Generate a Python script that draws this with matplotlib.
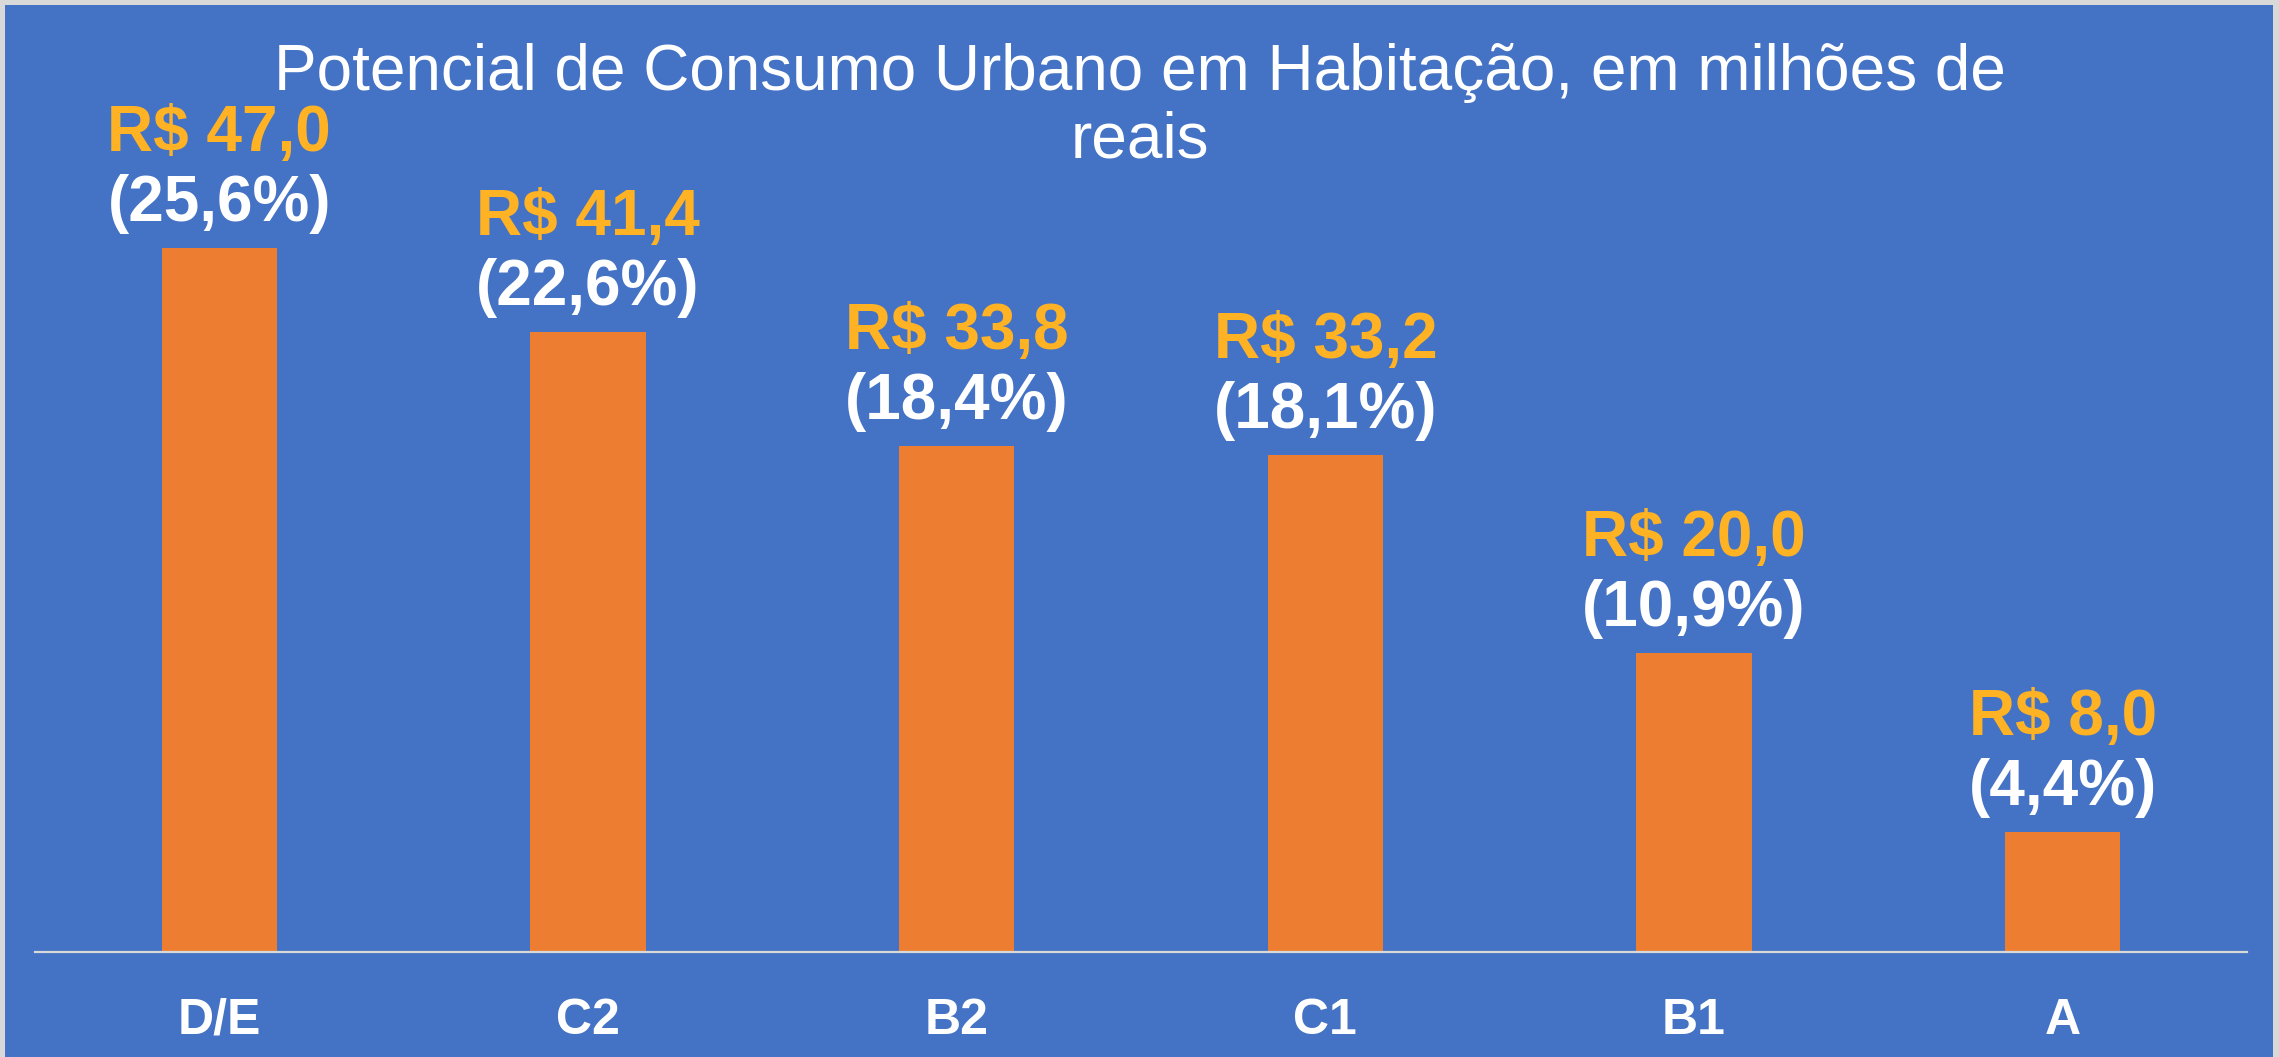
import matplotlib
matplotlib.use("Agg")
import matplotlib.pyplot as plt
from matplotlib.patches import Rectangle

plt.rcParams['font.family'] = ['Liberation Sans', 'DejaVu Sans']

# data
categorias = ['D/E', 'C2', 'B2', 'C1', 'B1', 'A']
valores = [47.0, 41.4, 33.8, 33.2, 20.0, 8.0]
percentuais = [25.6, 22.6, 18.4, 18.1, 10.9, 4.4]
titulo = 'Potencial de Consumo Urbano em Habitação, em milhões de\nreais'

azul = '#4472C4'
laranja = '#ED7D31'
dourado = '#FFB224'

W, H = 2279, 1057
fig = plt.figure(figsize=(W / 100, H / 100), dpi=100)
fig.patch.set_facecolor('#D9D9D9')
# blue slide background inside thin grey frame
fig.patches.append(Rectangle((5 / W, 0), (2273 - 5) / W, (H - 5) / H,
                             transform=fig.transFigure, facecolor=azul,
                             edgecolor='none', zorder=-5))

ax_bottom = (H - 952) / H
ax_top = (H - 40) / H
ax = fig.add_axes([35 / W, ax_bottom, (2247 - 35) / W, ax_top - ax_bottom])
ax.set_facecolor('none')

x = range(len(categorias))
bars = ax.bar(x, valores, width=0.312, color=laranja, zorder=2)

ax.set_xlim(-0.5, len(categorias) - 0.5)
ax.set_ylim(0, (952 - 40) / 14.97)

for i, (v, p) in enumerate(zip(valores, percentuais)):
    ax.annotate(f"R$ {v:.1f}".replace('.', ','), xy=(i, v), xytext=(0, 97),
                textcoords='offset pixels', ha='center', va='baseline',
                fontsize=46, fontweight='bold', color=dourado)
    ax.annotate(f"({p:.1f}%)".replace('.', ','), xy=(i, v), xytext=(0, 27),
                textcoords='offset pixels', ha='center', va='baseline',
                fontsize=46, fontweight='bold', color='white')

for s in ['top', 'right', 'left']:
    ax.spines[s].set_visible(False)
ax.spines['bottom'].set_color('#D9D9D9')
ax.spines['bottom'].set_linewidth(1.6)
ax.set_yticks([])
ax.set_xticks(list(x))
ax.set_xticklabels(categorias, fontsize=36, fontweight='bold', color='white')
ax.tick_params(axis='x', length=0, pad=59)
for lbl in ax.get_xticklabels():
    lbl.set_verticalalignment('baseline')

# baseline of the last title line
fig.text(1140 / W, (H - 157) / H, titulo, ha='center', va='baseline',
         fontsize=46, color='white', linespacing=1.15, multialignment='center')

fig.savefig('out.png', dpi=100, facecolor=fig.get_facecolor())
